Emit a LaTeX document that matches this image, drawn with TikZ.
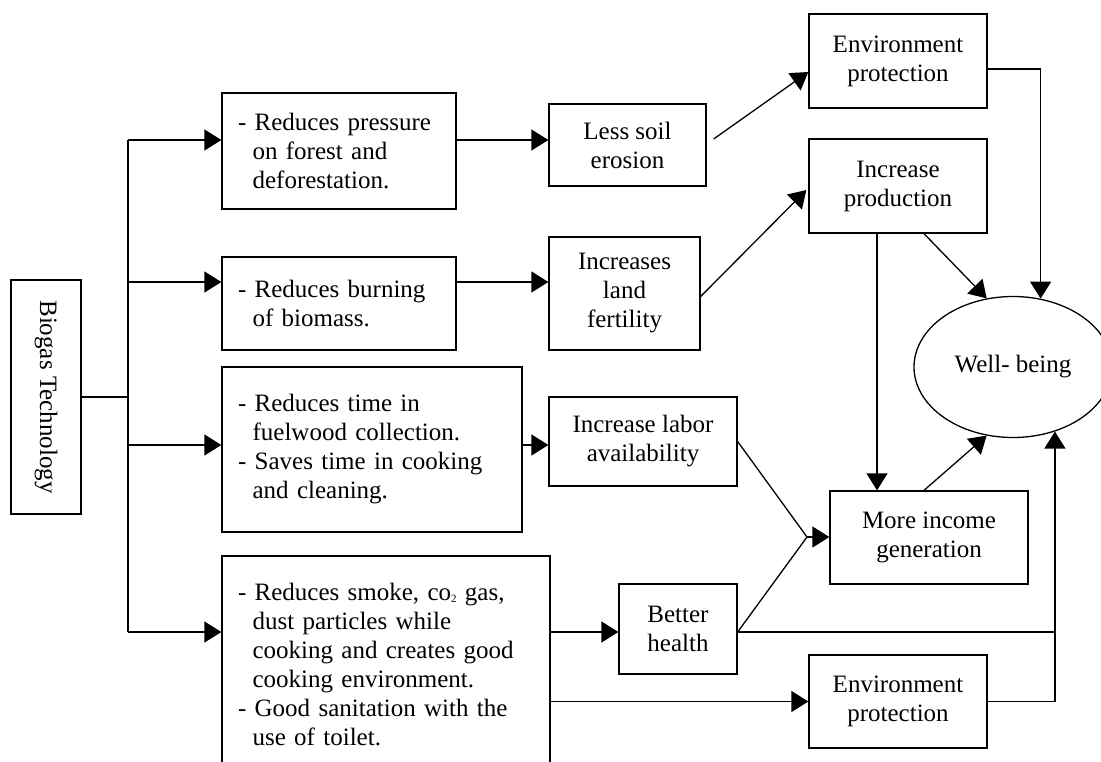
\documentclass[tikz,border=0pt]{standalone}
\usepackage{fontspec}
\setmainfont{Liberation Serif}
\usepackage{tikz}
\usetikzlibrary{arrows.meta,shapes.geometric}

\newcommand{\hang}{\hspace*{0.583em}}
\newcommand{\smallsub}[1]{\raisebox{-2pt}{\fontsize{11}{11}\selectfont #1}}

\begin{document}
\begin{tikzpicture}[x=1pt,y=-1pt,
	font=\fontsize{25}{29}\selectfont,
	box/.style={draw,line width=1.3pt,inner sep=0pt,align=center},
	lbox/.style={box,align=left},
	ln/.style={line width=1.3pt},
	arr/.style={line width=1.3pt,-{Triangle[length=17pt,width=21pt]}}]
\useasboundingbox (0,0) rectangle (1101,761);

		\node[box,rotate=-90,minimum width=234,minimum height=70] (bio) at (46,397){Biogas Technology};

		\node[lbox,text width=202,minimum width=234,minimum height=116] (r1) at (339,151){- Reduces pressure\\\hang on forest and\\\hang deforestation.};
		\node[lbox,text width=202,minimum width=234,minimum height=93] (r2) at (339,303.5){- Reduces burning\\\hang of biomass.};
		\node[lbox,text width=268,minimum width=300,minimum height=165] (r3) at (372,449.5){- Reduces time in\\\hang fuelwood collection.\\- Saves time in cooking\\\hang and cleaning.};
		\node[lbox,text width=296,minimum width=328,minimum height=216] (r4) at (386,664){- Reduces smoke, co\smallsub{2} gas,\\\hang dust particles while\\\hang cooking and creates good\\\hang cooking environment.\\- Good sanitation with the\\\hang use of toilet.};

		\node[box,minimum width=157,minimum height=82] (soil) at (627.5,145){Less soil\\erosion};
		\node[box,minimum width=151,minimum height=113] (fert) at (624.5,293.5){Increases\\land\\fertility};
		\node[box,minimum width=188,minimum height=89] (labor) at (643,441.5){Increase labor\\availability};
		\node[box,minimum width=118,minimum height=90] (health) at (678,629){Better\\health};

		\node[box,minimum width=178,minimum height=94] (envA) at (898,61){Environment\\protection};
		\node[box,minimum width=178,minimum height=94] (prod) at (898,186){Increase\\production};
		\node[box,minimum width=198,minimum height=93] (income) at (929,537.5){More income\\generation};
		\node[box,minimum width=178,minimum height=93] (envB) at (898,701.5){Environment\\protection};
		\node[draw,line width=1.3pt,ellipse,inner sep=0pt,minimum width=198,minimum height=141] (well) at (1013,367){Well- being};

\coordinate (t1) at (128,140);
\coordinate (t2) at (128,282);
\coordinate (t3) at (128,445);
\coordinate (t4) at (128,632);
\coordinate (m) at (807,537);

\draw[ln] (bio.north) -- (bio.north -| t1);
\draw[ln] (t1) -- (t4);
\draw[arr] (t1) -- (t1 -| r1.west);
\draw[arr] (t2) -- (t2 -| r2.west);
\draw[arr] (t3) -- (t3 -| r3.west);
\draw[arr] (t4) -- (t4 -| r4.west);

\draw[arr] (t1 -| r1.east) -- (t1 -| soil.west);
\draw[arr] (t2 -| r2.east) -- (t2 -| fert.west);
\draw[arr] (t3 -| r3.east) -- (t3 -| labor.west);
\draw[arr] (t4 -| r4.east) -- (t4 -| health.west);
\draw[arr] (r4.east |- envB.west) -- (envB.west);

\draw[arr] ([shift={(7,-6)}]soil.east) -- ([shift={(0,11)}]envA.west);
\draw[arr] ([shift={(0,3)}]fert.east) -- ([shift={(-2,4)}]prod.west);
\draw[arr] ([shift={(-21,0)}]prod.south) -- ([shift={(-21,0)}]prod.south |- income.north);
\draw[arr] ([shift={(26,0)}]prod.south) -- (well.111);
\draw[arr] ([shift={(0,8)}]envA.east) -| (well.68);

\draw[ln] (labor.east) -- (m);
\draw[ln] (t4 -| health.east) -- (m);
\draw[arr] (m) -- (m -| income.west);
\draw[arr] ([shift={(-5,0)}]income.north) -- (well.249);

\draw[ln] (t4 -| health.east) -- (t4 -| well.303);
\draw[arr] (envB.east) -| (well.303);
\end{tikzpicture}
\end{document}
